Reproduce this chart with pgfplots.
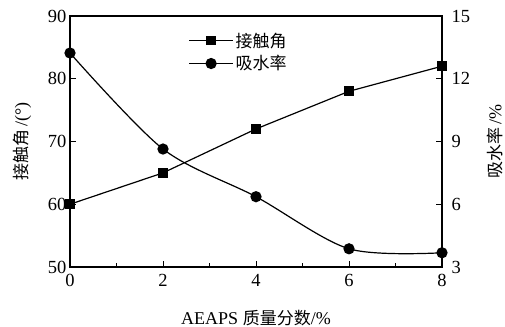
\documentclass[border=0pt]{standalone}
\usepackage{pgfplots}
\pgfplotsset{compat=1.18}
\usepackage{fontspec}
\setmainfont{Liberation Serif}
\newfontfamily\cjk{Noto Sans CJK SC}
\begin{document}
\begin{tikzpicture}
\pgfplotsset{
  every axis/.append style={
    scale only axis, width=372pt, height=251pt,
    xmin=0, xmax=8,
    font=\fontsize{18}{21}\selectfont,
    /pgf/number format/assume math mode=true,
    tick style={line width=1pt, black},
    major tick length=6pt, minor tick length=4pt,
    tick align=inside,
    axis line style={line width=1.6pt},
    tick label style={font=\fontsize{18.5}{21}\selectfont},
  }
}
\begin{axis}[name=a,
  ymin=50, ymax=90, ytick={50,60,70,80,90},
  xtick={0,2,4,6,8}, minor xtick={1,3,5,7},
  xtick pos=bottom, ytick pos=left,
  xlabel={AEAPS {\cjk\fontsize{17}{20}\selectfont 质量分数}/\%},
  ylabel={{\cjk\fontsize{17}{20}\selectfont 接触角}\,/(°)},
  xlabel style={yshift=-16pt},
  ylabel style={yshift=10pt},
  yticklabel style={xshift=0pt},
  xticklabel style={yshift=-4pt},
]
\addplot[black, line width=1.2pt, mark=square*, mark size=4.2pt, mark options={solid}]
  coordinates {(0,60) (2,65) (4,72) (6,78) (8,82)};
\end{axis}
\begin{axis}[
  axis x line=none, axis y line*=right,
  ymin=3, ymax=15, ytick={3,6,9,12,15},
  ylabel={{\cjk\fontsize{17}{20}\selectfont 吸水率}\,/\%},
  ylabel style={yshift=-10pt},
  yticklabel style={xshift=6pt},
  legend style={draw=none, fill=none, at={(0.31,0.95)}, anchor=north west,
     font=\cjk\fontsize{17}{20}\selectfont, row sep=3pt,
     /tikz/every even column/.append style={column sep=4pt}},
  legend cell align=left,
  legend image code/.code={\draw[mark repeat=2,mark phase=2,#1] plot coordinates {(0pt,0pt)(22pt,0pt)(44pt,0pt)};},
]
\addlegendimage{black, line width=1.2pt, mark=square*, mark size=4.2pt}
\addlegendentry{接触角}
\addplot[black, line width=1.2pt, smooth, tension=0.5, mark=*, mark size=5pt]
  coordinates {(0,13.23) (2,8.64) (4,6.36) (6,3.87) (8,3.68)};
\addlegendentry{吸水率}
\end{axis}
\pgfresetboundingbox
\path ([xshift=-70pt,yshift=-60pt]a.south west) rectangle ([xshift=63pt,yshift=16pt]a.north east);
\end{tikzpicture}
\end{document}
